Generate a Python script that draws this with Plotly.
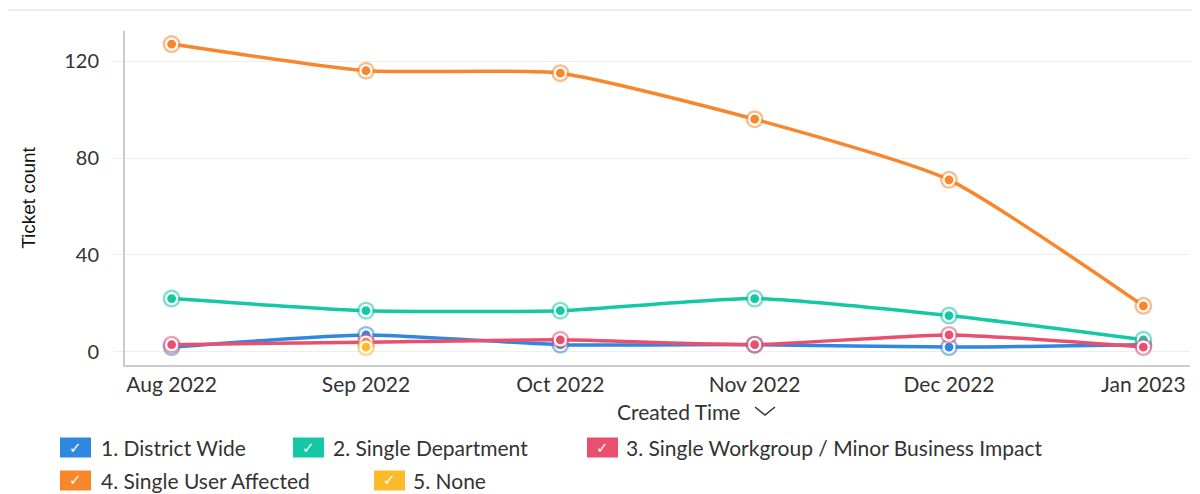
import plotly.graph_objects as go

months = ["Aug 2022", "Sep 2022", "Oct 2022", "Nov 2022", "Dec 2022", "Jan 2023"]
series_names = ["1. District Wide", "2. Single Department",
                "3. Single Workgroup / Minor Business Impact",
                "4. Single User Affected", "5. None"]
district_wide = [2, 7, 3, 3, 2, 3]
single_department = [22, 17, 17, 22, 15, 5]
single_workgroup = [3, 4, 5, 3, 7, 2]
single_user = [127, 116, 115, 96, 71, 19]
none_vals = [None, 2, None, None, None, None]
y_ticks = [0, 40, 80, 120]

values = [district_wide, single_department, single_workgroup, single_user, none_vals]
colors = ["#2f88e0", "#14c8a6", "#e9506f", "#f8862b", "#fbbb2a"]

# page has an 8px body margin -> figure is 8px smaller and offset
OFF = 8
W, H = 1200 - OFF, 494 - OFF
# plot area in page pixels
PL, PR, PT, PB = 125, 1190, 31, 365
L, R, T, B = PL - OFF, W - (PR - OFF), PT - OFF, H - (PB - OFF)
PW, PH = PR - PL, PB - PT


def px(x):
    return (x - PL) / PW


def py(y):
    return (PB - y) / PH


fig = go.Figure()
for name, vals, c in zip(series_names, values, colors):
    fig.add_trace(go.Scatter(x=months, y=vals, mode="markers", showlegend=False,
                             hoverinfo="skip",
                             marker=dict(size=18, color=c, opacity=0.55)))
    fig.add_trace(go.Scatter(x=months, y=vals, name=name, mode="lines+markers",
                             showlegend=False,
                             line=dict(color=c, width=3.5, shape="spline", smoothing=0.55),
                             marker=dict(size=11, color=c, line=dict(color="white", width=2.2))))

shapes = [dict(type="line", xref="paper", yref="paper", x0=px(OFF), x1=px(1200),
               y0=py(10), y1=py(10), line=dict(color="#e6e6e6", width=1.5))]
annotations = []

# custom legend (checkbox style): (series index, square left, text left, row centre)
legend_items = [
    (0, 60, 99, 447.5), (1, 293, 331, 447.5), (2, 587, 624, 447.5),
    (3, 60, 99, 480.5), (4, 374, 411, 480.5),
]
for idx, x0, tx, yc in legend_items:
    shapes.append(dict(type="rect", xref="paper", yref="paper",
                       x0=px(x0), x1=px(x0 + 31), y0=py(yc + 10), y1=py(yc - 10),
                       fillcolor=colors[idx], line=dict(width=0)))
    annotations.append(dict(xref="paper", yref="paper", x=px(x0 + 15.5), y=py(yc),
                            text="✓", showarrow=False, xanchor="center", yanchor="middle",
                            font=dict(family="DejaVu Sans", size=15, color="white")))
    annotations.append(dict(xref="paper", yref="paper", x=px(tx), y=py(yc),
                            text=series_names[idx], showarrow=False,
                            xanchor="left", yanchor="middle",
                            font=dict(family="Lato", size=21, color="#333333")))

# x axis title with chevron
annotations.append(dict(xref="paper", yref="paper", x=px(742), y=py(411),
                        text="Created Time", showarrow=False, xanchor="right",
                        yanchor="middle", font=dict(family="Lato", size=21, color="#333333")))
shapes.append(dict(type="path", xref="paper", yref="paper",
                   path=f"M {px(755)} {py(407)} L {px(765)} {py(415)} L {px(775)} {py(407)}",
                   line=dict(color="#333333", width=1.5)))

fig.update_layout(
    width=W, height=H,
    margin=dict(l=L, r=R, t=T, b=B),
    paper_bgcolor="white", plot_bgcolor="white",
    showlegend=False,
    shapes=shapes, annotations=annotations,
    font=dict(family="Lato", color="#333333"),
    xaxis=dict(type="category", range=[-0.24, 5.24], showgrid=False,
               showline=True, linecolor="#cccccc", linewidth=2,
               ticks="", tickfont=dict(family="Lato", size=21, color="#333333"),
               fixedrange=True),
    yaxis=dict(range=[-5.4, 132.4], tickvals=y_ticks, showgrid=True,
               gridcolor="#eeeeee", gridwidth=1, zeroline=False,
               showline=True, linecolor="#cccccc", linewidth=2,
               ticks="outside", ticklen=10, tickcolor="#eeeeee",
               ticklabelstandoff=10,
               tickfont=dict(family="Lato", size=20, color="#333333"),
               title=dict(text="Ticket count", standoff=24,
                          font=dict(family="Liberation Sans Narrow, Liberation Sans", size=19,
                                    color="#111111")),
               fixedrange=True),
)

fig.write_html("out.html")
